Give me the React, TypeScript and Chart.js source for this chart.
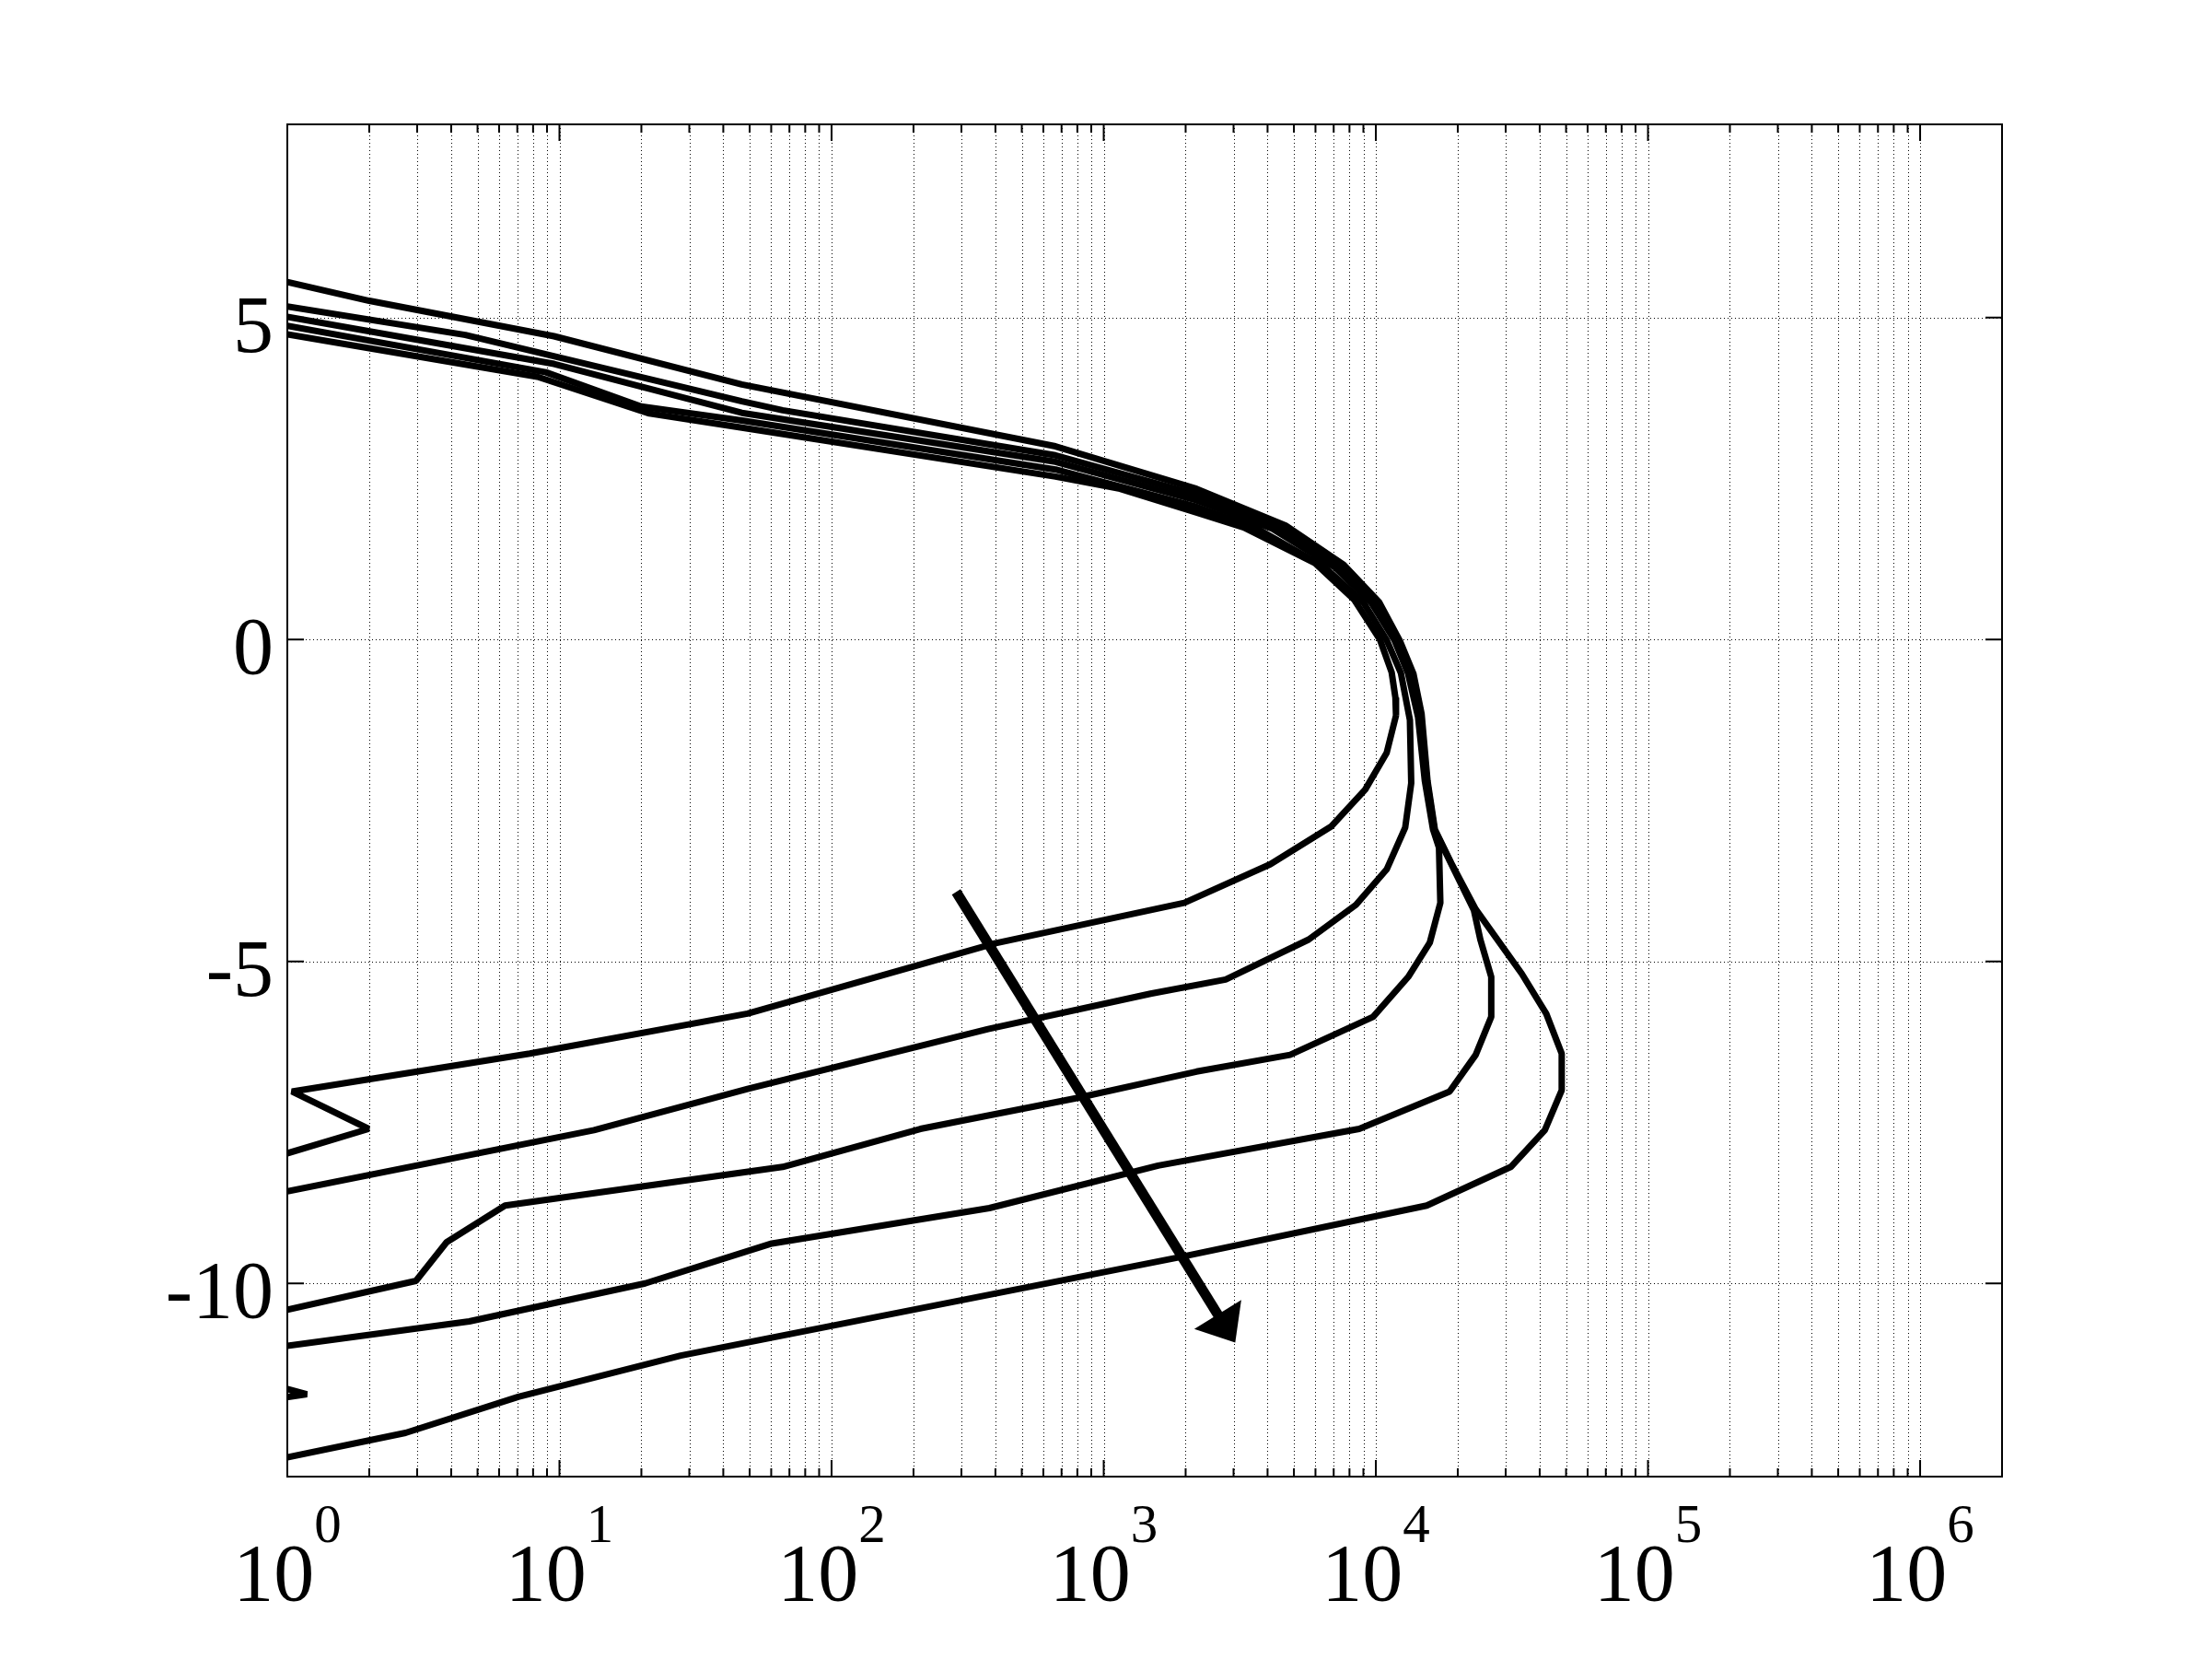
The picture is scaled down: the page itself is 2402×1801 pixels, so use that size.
import React, { useEffect, useRef } from 'react';
import { Chart, registerables } from 'chart.js';

Chart.register(...registerables);

// ---- data (x on a log axis, y linear) ----
const curve1X = [1, 8.3, 21.4, 46.8, 665, 1148, 2193, 3273, 5957, 8318, 10350, 11430, 11800, 11860, 10960, 9141, 6871, 4093, 1977, 398, 49.1, 7.78, 1.04, 1.99, 0.5];
const curve1Y = [4.74, 4.08, 3.51, 3.29, 2.53, 2.34, 1.97, 1.74, 1.19, 0.62, 0.0, -0.51, -0.9, -1.18, -1.76, -2.33, -2.9, -3.49, -4.09, -4.72, -5.81, -6.43, -7.02, -7.6, -8.36];

const curve2X = [1, 8.91, 19.95, 46.8, 665, 2193, 3631, 6457, 9016, 10960, 12360, 13340, 13490, 12820, 10960, 8453, 5662, 2805, 1486, 376, 49.1, 13.4, 1];
const curve2Y = [4.87, 4.15, 3.62, 3.4, 2.64, 2.06, 1.73, 1.13, 0.57, -0.01, -0.52, -1.25, -2.23, -2.92, -3.57, -4.12, -4.66, -5.28, -5.5, -6.05, -6.98, -7.62, -8.57];

const curve3X = [1, 9.55, 46.8, 665, 2193, 4169, 7079, 9660, 11700, 13120, 14290, 15140, 16220, 17060, 17260, 15780, 13150, 9772, 4842, 2193, 798, 212, 66.1, 6.31, 3.85, 2.97, 1];
const curve3Y = [5.01, 4.28, 3.52, 2.76, 2.16, 1.72, 1.12, 0.56, -0.01, -0.52, -1.2, -2.2, -2.95, -3.23, -4.09, -4.71, -5.24, -5.86, -6.45, -6.71, -7.12, -7.6, -8.19, -8.79, -9.36, -9.96, -10.41];

const curve4X = [1, 4.51, 46.8, 66.1, 665, 2193, 4467, 7413, 10000, 12020, 13490, 14550, 15420, 16410, 18840, 22910, 24210, 26550, 26550, 23280, 18660, 8690, 1585, 380, 60.3, 20.65, 4.66, 1, 0.5, 1.18, 0.5];
const curve4Y = [5.17, 4.73, 3.7, 3.56, 2.86, 2.25, 1.73, 1.13, 0.56, -0.02, -0.53, -1.18, -2.2, -2.95, -3.47, -4.2, -4.66, -5.24, -5.86, -6.45, -7.02, -7.6, -8.17, -8.83, -9.38, -10.0, -10.59, -10.97, -11.3, -11.72, -11.95];

const curve5X = [1, 2.0, 9.55, 46.8, 665, 2193, 4656, 7621, 10280, 12250, 13740, 14720, 15490, 16480, 18920, 23280, 34360, 42270, 48190, 48190, 41780, 31330, 15380, 1914, 27.9, 7.06, 2.72, 1];
const curve5Y = [5.55, 5.26, 4.71, 3.96, 3.0, 2.34, 1.77, 1.16, 0.58, -0.02, -0.53, -1.15, -2.2, -2.95, -3.47, -4.19, -5.19, -5.81, -6.43, -7.0, -7.62, -8.19, -8.79, -9.59, -11.12, -11.76, -12.32, -12.7];

const curvesX = [curve1X, curve2X, curve3X, curve4X, curve5X];
const curvesY = [curve1Y, curve2Y, curve3Y, curve4Y, curve5Y];

// arrow (data coordinates)
const arrowTail = { x: 287, y: -3.92 };
const arrowTip = { x: 3043, y: -10.92 };

// axes
const xMin = 1;
const xMax = 2e6;
const yMin = -13;
const yMax = 8;
const xDecades = [1, 10, 100, 1000, 10000, 100000, 1000000];
const xExponents = ['0', '1', '2', '3', '4', '5', '6'];
const xMinorMultipliers = [2, 3, 4, 5, 6, 7, 8, 9];
const yTicks = [-10, -5, 0, 5];
const yTickLabels = ['-10', '-5', '0', '5'];

const FONT = '"Liberation Serif", "Times New Roman", serif';

const axesPlugin = {
  id: 'matlabAxes',
  beforeDatasetsDraw(chart: any) {
    const { ctx, chartArea: a, scales } = chart;
    const xs = scales.x;
    const ys = scales.y;
    ctx.save();

    const minorVals: number[] = [];
    xDecades.forEach((d) => {
      xMinorMultipliers.forEach((m) => {
        const v = m * d;
        if (v < xMax) minorVals.push(v);
      });
    });

    // dotted grid
    ctx.strokeStyle = '#000';
    ctx.lineWidth = 1;
    ctx.setLineDash([1, 3]);
    const gridX = [...xDecades.filter((v) => v > xMin && v < xMax), ...minorVals];
    gridX.forEach((v) => {
      const px = Math.round(xs.getPixelForValue(v)) + 0.5;
      ctx.beginPath();
      ctx.moveTo(px, a.top);
      ctx.lineTo(px, a.bottom);
      ctx.stroke();
    });
    yTicks.forEach((v) => {
      const py = Math.round(ys.getPixelForValue(v)) + 0.5;
      ctx.beginPath();
      ctx.moveTo(a.left, py);
      ctx.lineTo(a.right, py);
      ctx.stroke();
    });
    ctx.setLineDash([]);

    // tick marks (inward)
    ctx.lineWidth = 2;
    const major = 18;
    const minor = 9;
    const drawXTick = (v: number, len: number) => {
      const px = xs.getPixelForValue(v);
      ctx.beginPath();
      ctx.moveTo(px, a.bottom);
      ctx.lineTo(px, a.bottom - len);
      ctx.moveTo(px, a.top);
      ctx.lineTo(px, a.top + len);
      ctx.stroke();
    };
    xDecades.forEach((v) => drawXTick(v, major));
    minorVals.forEach((v) => drawXTick(v, minor));
    yTicks.forEach((v) => {
      const py = ys.getPixelForValue(v);
      ctx.beginPath();
      ctx.moveTo(a.left, py);
      ctx.lineTo(a.left + major, py);
      ctx.moveTo(a.right, py);
      ctx.lineTo(a.right - major, py);
      ctx.stroke();
    });

    // box
    ctx.strokeRect(a.left, a.top, a.right - a.left, a.bottom - a.top);

    // y tick labels
    ctx.fillStyle = '#000';
    ctx.font = `88px ${FONT}`;
    ctx.textAlign = 'right';
    ctx.textBaseline = 'alphabetic';
    yTicks.forEach((v, i) => {
      const py = ys.getPixelForValue(v);
      ctx.fillText(yTickLabels[i], a.left - 15, py + 37);
    });

    // x tick labels 10^k
    ctx.textAlign = 'left';
    xDecades.forEach((v, i) => {
      const px = xs.getPixelForValue(v);
      ctx.font = `88px ${FONT}`;
      const wBase = ctx.measureText('10').width;
      ctx.font = `59px ${FONT}`;
      const wExp = ctx.measureText(xExponents[i]).width;
      const start = px - (wBase + wExp) / 2;
      ctx.font = `88px ${FONT}`;
      ctx.fillText('10', start, a.bottom + 134);
      ctx.font = `59px ${FONT}`;
      ctx.fillText(xExponents[i], start + wBase, a.bottom + 71);
    });

    ctx.restore();
  },
  afterDatasetsDraw(chart: any) {
    const { ctx, scales } = chart;
    const xs = scales.x;
    const ys = scales.y;
    const x0 = xs.getPixelForValue(arrowTail.x);
    const y0 = ys.getPixelForValue(arrowTail.y);
    const x1 = xs.getPixelForValue(arrowTip.x);
    const y1 = ys.getPixelForValue(arrowTip.y);
    const dx = x1 - x0;
    const dy = y1 - y0;
    const len = Math.hypot(dx, dy);
    const ux = dx / len;
    const uy = dy / len;
    const headLen = 36;
    const headHalf = 30;
    const bx = x1 - ux * headLen;
    const by = y1 - uy * headLen;
    ctx.save();
    ctx.strokeStyle = '#000';
    ctx.fillStyle = '#000';
    ctx.lineWidth = 11;
    ctx.lineCap = 'butt';
    ctx.beginPath();
    ctx.moveTo(x0, y0);
    ctx.lineTo(bx + ux * 3, by + uy * 3);
    ctx.stroke();
    ctx.beginPath();
    ctx.moveTo(x1, y1);
    ctx.lineTo(bx - uy * headHalf, by + ux * headHalf);
    ctx.lineTo(bx + uy * headHalf, by - ux * headHalf);
    ctx.closePath();
    ctx.fill();
    ctx.restore();
  },
};

export default function App() {
  const canvasRef = useRef<HTMLCanvasElement | null>(null);

  useEffect(() => {
    const canvas = canvasRef.current;
    if (!canvas) return;
    const datasets = curvesX.map((xs, ci) => ({
      label: `curve ${ci + 1}`,
      data: xs.map((x, i) => ({ x, y: curvesY[ci][i] })),
      showLine: true,
      borderColor: '#000',
      backgroundColor: '#000',
      borderWidth: 7,
      borderJoinStyle: 'bevel' as const,
      borderCapStyle: 'butt' as const,
      pointRadius: 0,
      pointHoverRadius: 0,
      fill: false,
      tension: 0,
      clip: 0,
    }));
    const chart = new Chart(canvas, {
      type: 'scatter',
      data: { datasets },
      options: {
        animation: false,
        responsive: false,
        devicePixelRatio: 1,
        events: [],
        layout: { padding: { left: 312, right: 228, top: 135, bottom: 198 } },
        plugins: {
          legend: { display: false },
          tooltip: { enabled: false },
        },
        scales: {
          x: { type: 'logarithmic', min: xMin, max: xMax, display: false },
          y: { type: 'linear', min: yMin, max: yMax, display: false },
        },
      },
      plugins: [axesPlugin],
    });
    return () => chart.destroy();
  }, []);

  return (
    <div
      style={{
        position: 'fixed',
        left: 0,
        top: 0,
        width: 2402,
        height: 1801,
        background: '#fff',
      }}
    >
      <canvas ref={canvasRef} width={2402} height={1801} style={{ width: 2402, height: 1801, display: 'block' }} />
    </div>
  );
}
